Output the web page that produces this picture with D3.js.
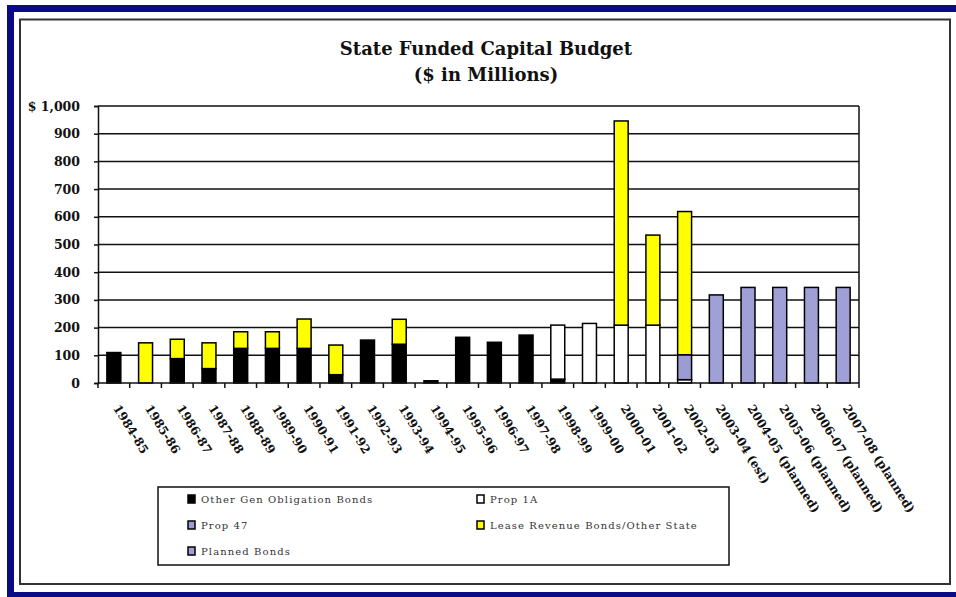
<!DOCTYPE html>
<html>
<head>
<meta charset="utf-8">
<script src="https://cdn.jsdelivr.net/npm/d3@7"></script>
<style>
  html, body { margin: 0; padding: 0; background: #fff; }
  svg { display: block; }
</style>
</head>
<body>
<svg id="chart" width="956" height="597"></svg>
<script>
// Fiscal years on the category axis
const years = [
  "1984-85", "1985-86", "1986-87", "1987-88", "1988-89", "1989-90",
  "1990-91", "1991-92", "1992-93", "1993-94", "1994-95", "1995-96",
  "1996-97", "1997-98", "1998-99", "1999-00", "2000-01", "2001-02",
  "2002-03", "2003-04 (est)", "2004-05 (planned)", "2005-06 (planned)",
  "2006-07 (planned)", "2007-08 (planned)"
];

// Funding sources, $ millions per year (stacked bottom to top)
const otherGenObligation = [110, 0, 88, 52, 125, 125, 125, 30, 155, 140, 8, 165, 147, 173, 14, 0, 0, 0, 0, 0, 0, 0, 0, 0];
const prop1A            = [0, 0, 0, 0, 0, 0, 0, 0, 0, 0, 0, 0, 0, 0, 195, 215, 209, 209, 12, 0, 0, 0, 0, 0];
const prop47            = [0, 0, 0, 0, 0, 0, 0, 0, 0, 0, 0, 0, 0, 0, 0, 0, 0, 0, 90, 0, 0, 0, 0, 0];
const leaseRevenue      = [0, 145, 70, 93, 60, 60, 106, 107, 0, 90, 0, 0, 0, 0, 0, 0, 737, 325, 517, 0, 0, 0, 0, 0];
const plannedBonds      = [0, 0, 0, 0, 0, 0, 0, 0, 0, 0, 0, 0, 0, 0, 0, 0, 0, 0, 0, 318, 345, 345, 345, 345];

const yTicks = [0, 100, 200, 300, 400, 500, 600, 700, 800, 900, 1000];

const series = [
  { key: "otherGO", name: "Other Gen Obligation Bonds",      values: otherGenObligation, color: "#000000" },
  { key: "prop1A",  name: "Prop 1A",                         values: prop1A,             color: "#ffffff" },
  { key: "prop47",  name: "Prop 47",                         values: prop47,             color: "#9c9cd2" },
  { key: "lease",   name: "Lease Revenue Bonds/Other State", values: leaseRevenue,       color: "#ffff00" },
  { key: "planned", name: "Planned Bonds",                   values: plannedBonds,       color: "#a0a0d6" }
];

const rows = years.map((yr, i) => {
  const r = { year: yr };
  series.forEach(s => { r[s.key] = s.values[i]; });
  return r;
});

const svg = d3.select("#chart");
const serif = "'DejaVu Serif', 'Liberation Serif', serif";

// Page frame: navy outer band and thin dark inner border
svg.append("rect")
  .attr("x", 10.5).attr("y", 8.5).attr("width", 960).attr("height", 587)
  .attr("fill", "none").attr("stroke", "#0b0b86").attr("stroke-width", 7);
svg.append("rect")
  .attr("x", 20).attr("y", 19.5).attr("width", 930).attr("height", 564.5)
  .attr("fill", "none").attr("stroke", "#333").attr("stroke-width", 2);

// Plot area
const plot = { left: 98, right: 859, top: 106, bottom: 383 };

const x = d3.scaleBand()
  .domain(years)
  .range([plot.left, plot.right])
  .paddingInner(0.56)
  .paddingOuter(0.28);

const y = d3.scaleLinear()
  .domain([0, 1000])
  .range([plot.bottom, plot.top]);

// Title
svg.append("text")
  .attr("x", 486).attr("y", 55)
  .attr("text-anchor", "middle")
  .attr("font-family", serif).attr("font-weight", "bold").attr("font-size", 18)
  .attr("fill", "#111")
  .text("State Funded Capital Budget");
svg.append("text")
  .attr("x", 486).attr("y", 81)
  .attr("text-anchor", "middle")
  .attr("font-family", serif).attr("font-weight", "bold").attr("font-size", 18)
  .attr("fill", "#111")
  .text("($ in Millions)");

// Horizontal gridlines
svg.append("g")
  .selectAll("line")
  .data(yTicks.filter(d => d > 0))
  .join("line")
  .attr("x1", plot.left).attr("x2", plot.right)
  .attr("y1", d => y(d)).attr("y2", d => y(d))
  .attr("stroke", "#111").attr("stroke-width", 1.5);

// Right edge of plot area
svg.append("line")
  .attr("x1", plot.right).attr("x2", plot.right)
  .attr("y1", plot.top).attr("y2", plot.bottom)
  .attr("stroke", "#111").attr("stroke-width", 1.5);

// Stacked bars
const stack = d3.stack().keys(series.map(s => s.key));
const stacked = stack(rows);

svg.append("g")
  .selectAll("g")
  .data(stacked)
  .join("g")
  .attr("fill", (d, i) => series[i].color)
  .selectAll("rect")
  .data(d => d.filter(p => p[1] - p[0] > 0))
  .join("rect")
  .attr("x", p => x(p.data.year))
  .attr("width", x.bandwidth())
  .attr("y", p => y(p[1]))
  .attr("height", p => y(p[0]) - y(p[1]))
  .attr("stroke", "#000").attr("stroke-width", 1.5);

// Y axis
const yAxis = d3.axisLeft(y)
  .tickValues(yTicks)
  .tickSize(4)
  .tickPadding(14)
  .tickFormat(d => d === 1000 ? "$ 1,000" : d3.format(",")(d));

const gy = svg.append("g")
  .attr("transform", `translate(${plot.left},0)`)
  .call(yAxis);
gy.select(".domain").attr("stroke", "#111").attr("stroke-width", 1.5);
gy.selectAll(".tick line").attr("stroke", "#111").attr("stroke-width", 1.5);
gy.selectAll(".tick text")
  .attr("font-family", serif).attr("font-weight", "bold").attr("font-size", 12.5)
  .attr("fill", "#111");

// X axis: baseline, tick marks between categories, slanted labels
svg.append("line")
  .attr("x1", plot.left).attr("x2", plot.right)
  .attr("y1", plot.bottom).attr("y2", plot.bottom)
  .attr("stroke", "#111").attr("stroke-width", 1.5);

const boundaries = years.map(yr => x(yr) - x.step() * x.paddingInner() / 2).concat([plot.right]);
svg.append("g")
  .selectAll("line")
  .data(boundaries)
  .join("line")
  .attr("x1", d => d).attr("x2", d => d)
  .attr("y1", plot.bottom).attr("y2", plot.bottom + 5)
  .attr("stroke", "#111").attr("stroke-width", 1.5);

svg.append("g")
  .selectAll("text")
  .data(years)
  .join("text")
  .attr("transform", d => `translate(${x(d) + x.bandwidth() / 2 - 1},${plot.bottom + 25}) rotate(58)`)
  .attr("text-anchor", "start")
  .attr("font-family", serif).attr("font-weight", "bold").attr("font-size", 12)
  .attr("fill", "#111")
  .text(d => d);

// Legend
const legend = svg.append("g");
legend.append("rect")
  .attr("x", 158).attr("y", 487).attr("width", 571).attr("height", 78)
  .attr("fill", "#fff").attr("stroke", "#111").attr("stroke-width", 1.5);

const legendOrder = [
  { s: series[0], col: 0, row: 0 },
  { s: series[1], col: 1, row: 0 },
  { s: series[2], col: 0, row: 1 },
  { s: series[3], col: 1, row: 1 },
  { s: series[4], col: 0, row: 2 }
];
const colX = [188, 477];
const rowY = [499, 525, 551];

const items = legend.selectAll("g.item")
  .data(legendOrder)
  .join("g")
  .attr("class", "item")
  .attr("transform", d => `translate(${colX[d.col]},${rowY[d.row]})`);
items.append("rect")
  .attr("x", 0).attr("y", -4).attr("width", 7).attr("height", 8)
  .attr("fill", d => d.s.color)
  .attr("stroke", "#000").attr("stroke-width", 1.5);
items.append("text")
  .attr("x", 13).attr("y", 4)
  .attr("font-family", serif).attr("font-size", 10)
  .attr("letter-spacing", 1.1)
  .attr("fill", "#333")
  .text(d => d.s.name);
</script>
</body>
</html>
